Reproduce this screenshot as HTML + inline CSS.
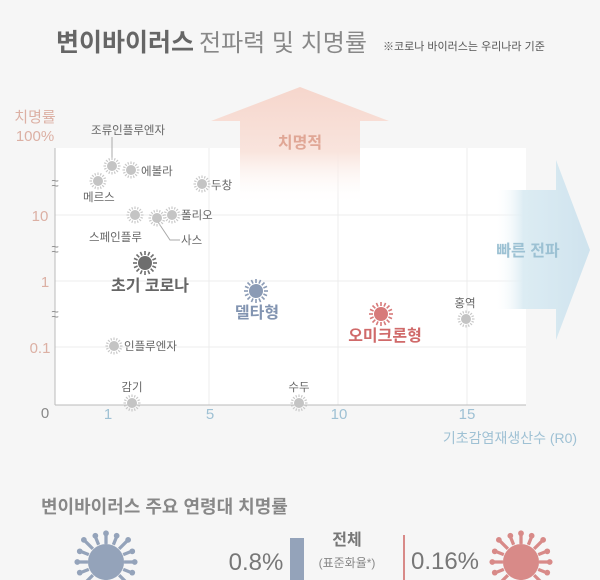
<!DOCTYPE html>
<html><head><meta charset="utf-8"><style>
html,body{margin:0;padding:0;background:#f6f6f6;}
svg{display:block;font-family:"Liberation Sans","Noto Sans CJK KR",sans-serif;}
</style></head><body>
<svg width="600" height="580" viewBox="0 0 600 580" xmlns="http://www.w3.org/2000/svg">
<defs>
<linearGradient id="up" x1="0" y1="0" x2="0" y2="1">
<stop offset="0" stop-color="#f6d6cc"/><stop offset="0.55" stop-color="#f9e4dd"/><stop offset="1" stop-color="#ffffff" stop-opacity="0"/></linearGradient>
<linearGradient id="rt" x1="0" y1="0" x2="1" y2="0">
<stop offset="0" stop-color="#ffffff" stop-opacity="0"/><stop offset="0.3" stop-color="#dcecf3"/><stop offset="1" stop-color="#cfe3ee"/></linearGradient>
<g id="v">
<circle r="5" fill="#c4c4c4"/>
<g stroke="#c8c8c8" stroke-width="1.2">
<line x1="0" y1="-6" x2="0" y2="-8.5"/><line x1="0" y1="6" x2="0" y2="8.5"/><line x1="-6" y1="0" x2="-8.5" y2="0"/><line x1="6" y1="0" x2="8.5" y2="0"/>
<line x1="4.2" y1="4.2" x2="6" y2="6"/><line x1="-4.2" y1="4.2" x2="-6" y2="6"/><line x1="4.2" y1="-4.2" x2="6" y2="-6"/><line x1="-4.2" y1="-4.2" x2="-6" y2="-6"/>
<line x1="2.3" y1="-5.5" x2="3.2" y2="-7.8"/><line x1="-2.3" y1="-5.5" x2="-3.2" y2="-7.8"/><line x1="2.3" y1="5.5" x2="3.2" y2="7.8"/><line x1="-2.3" y1="5.5" x2="-3.2" y2="7.8"/>
<line x1="5.5" y1="2.3" x2="7.8" y2="3.2"/><line x1="5.5" y1="-2.3" x2="7.8" y2="-3.2"/><line x1="-5.5" y1="2.3" x2="-7.8" y2="3.2"/><line x1="-5.5" y1="-2.3" x2="-7.8" y2="-3.2"/>
</g></g>
<g id="bv">
<circle r="7" fill="currentColor"/>
<g stroke="currentColor" stroke-width="1.6">
<line x1="0" y1="-8" x2="0" y2="-12"/><line x1="0" y1="8" x2="0" y2="12"/><line x1="-8" y1="0" x2="-12" y2="0"/><line x1="8" y1="0" x2="12" y2="0"/>
<line x1="5.7" y1="5.7" x2="8.5" y2="8.5"/><line x1="-5.7" y1="5.7" x2="-8.5" y2="8.5"/><line x1="5.7" y1="-5.7" x2="8.5" y2="-8.5"/><line x1="-5.7" y1="-5.7" x2="-8.5" y2="-8.5"/>
<line x1="3" y1="-7.4" x2="4.6" y2="-11"/><line x1="-3" y1="-7.4" x2="-4.6" y2="-11"/><line x1="3" y1="7.4" x2="4.6" y2="11"/><line x1="-3" y1="7.4" x2="-4.6" y2="11"/>
<line x1="7.4" y1="3" x2="11" y2="4.6"/><line x1="7.4" y1="-3" x2="11" y2="-4.6"/><line x1="-7.4" y1="3" x2="-11" y2="4.6"/><line x1="-7.4" y1="-3" x2="-11" y2="-4.6"/>
</g></g>
<g id="big">
<circle r="22" fill="currentColor"/>
<g stroke="currentColor" stroke-width="4">
<line x1="0" y1="-22" x2="0" y2="-34"/><line x1="0" y1="22" x2="0" y2="34"/><line x1="-22" y1="0" x2="-34" y2="0"/><line x1="22" y1="0" x2="34" y2="0"/>
<line x1="16" y1="16" x2="26" y2="26"/><line x1="-16" y1="16" x2="-26" y2="26"/><line x1="16" y1="-16" x2="26" y2="-26"/><line x1="-16" y1="-16" x2="-26" y2="-26"/>
<line x1="9" y1="-21" x2="13" y2="-31"/><line x1="-9" y1="-21" x2="-13" y2="-31"/><line x1="21" y1="-9" x2="31" y2="-13"/><line x1="-21" y1="-9" x2="-31" y2="-13"/>
<line x1="21" y1="9" x2="31" y2="13"/><line x1="-21" y1="9" x2="-31" y2="13"/>
</g>
<g fill="currentColor"><circle cx="0" cy="-35" r="3.5"/><circle cx="-35" cy="0" r="3.5"/><circle cx="35" cy="0" r="3.5"/><circle cx="27" cy="-27" r="3.5"/><circle cx="-27" cy="-27" r="3.5"/><circle cx="13" cy="-32" r="3.5"/><circle cx="-13" cy="-32" r="3.5"/><circle cx="32" cy="-13" r="3.5"/><circle cx="-32" cy="-13" r="3.5"/><circle cx="32" cy="13" r="3.5"/><circle cx="-32" cy="13" r="3.5"/><circle cx="27" cy="27" r="3.5"/><circle cx="-27" cy="27" r="3.5"/></g>
</g>
</defs>

<text x="56" y="51" font-size="25" font-weight="bold" fill="#666">변이바이러스</text>
<text x="199" y="51" font-size="24" fill="#888">전파력 및 치명률</text>
<text x="383" y="50" font-size="11" fill="#555">※코로나 바이러스는 우리나라 기준</text>

<rect x="55" y="148" width="471" height="257" fill="#fff"/>
<g stroke="#ececec" stroke-width="1">
<line x1="55" y1="215" x2="526" y2="215"/><line x1="55" y1="281" x2="526" y2="281"/><line x1="55" y1="347" x2="526" y2="347"/>
<line x1="209" y1="148" x2="209" y2="405"/><line x1="338" y1="148" x2="338" y2="405"/><line x1="467" y1="148" x2="467" y2="405"/>
</g>

<polygon points="300,87 389,121 360,121 360,205 240,205 240,121 211,121" fill="url(#up)"/>
<text x="300" y="148" font-size="16" font-weight="bold" fill="#e0a796" text-anchor="middle">치명적</text>

<polygon points="495,190 556,190 556,160 590,250 556,340 556,309 495,309" fill="url(#rt)"/>
<text x="528" y="256" font-size="16" font-weight="bold" fill="#9cc1d3" text-anchor="middle">빠른 전파</text>

<line x1="55" y1="148" x2="55" y2="405" stroke="#bbb"/>
<line x1="55" y1="405" x2="526" y2="405" stroke="#bbb"/>
<g font-size="13" fill="#888" text-anchor="middle">
<text x="55" y="185">~</text><text x="55" y="190">~</text>
<text x="55" y="251">~</text><text x="55" y="256">~</text>
<text x="55" y="316">~</text><text x="55" y="321">~</text>
</g>
<g font-size="15" fill="#dcb0a4" text-anchor="middle">
<text x="35" y="122">치명률</text><text x="35" y="141">100%</text>
<text x="40" y="221">10</text><text x="45" y="287">1</text><text x="40" y="353">0.1</text>
</g>
<text x="45" y="418" font-size="15" fill="#888" text-anchor="middle">0</text>
<g font-size="15" fill="#9fc1d4" text-anchor="middle">
<text x="108" y="419">1</text><text x="210" y="419">5</text><text x="339" y="419">10</text><text x="467" y="419">15</text>
<text x="510" y="443" font-size="14">기초감염재생산수 (R0)</text>
</g>

<g font-size="11.5" fill="#666">
<line x1="112" y1="137" x2="112" y2="160" stroke="#aaa"/>
<text x="91" y="134">조류인플루엔자</text>
<use href="#v" x="112" y="166"/>
<use href="#v" x="131" y="170"/><text x="141" y="175">에볼라</text>
<use href="#v" x="98" y="181"/><text x="83" y="201">메르스</text>
<use href="#v" x="202" y="184"/><text x="211" y="189">두창</text>
<use href="#v" x="135" y="215"/><text x="89" y="241">스페인플루</text>
<polyline points="158,222 170,240 180,240" fill="none" stroke="#aaa"/>
<use href="#v" x="157" y="218"/>
<use href="#v" x="172" y="215"/><text x="181" y="219">폴리오</text>
<text x="181" y="244">사스</text>
<use href="#v" x="114" y="346"/><text x="124" y="350">인플루엔자</text>
<use href="#v" x="132" y="403"/><text x="132" y="391" text-anchor="middle">감기</text>
<use href="#v" x="299" y="403"/><text x="299" y="391" text-anchor="middle">수두</text>
<use href="#v" x="466" y="319"/><text x="465" y="307" text-anchor="middle">홍역</text>
</g>

<use href="#bv" x="145" y="263" color="#6e6e6e"/>
<text x="150" y="291" font-size="16" font-weight="bold" fill="#666" text-anchor="middle">초기 코로나</text>
<use href="#bv" x="256" y="291" color="#8b9bb5"/>
<text x="257" y="318" font-size="16" font-weight="bold" fill="#8294b1" text-anchor="middle">델타형</text>
<use href="#bv" x="381" y="314" color="#d77a7a"/>
<text x="385" y="341" font-size="16" font-weight="bold" fill="#d06a6a" text-anchor="middle">오미크론형</text>

<text x="41" y="513" font-size="18" font-weight="bold" fill="#888">변이바이러스 주요 연령대 치명률</text>
<use href="#big" transform="translate(106,562) scale(0.82)" color="#94a3ba"/>
<use href="#big" transform="translate(521,562) scale(0.82)" color="#d88a88"/>
<text x="256" y="570" font-size="24" fill="#777" text-anchor="middle">0.8%</text>
<rect x="290" y="538" width="14" height="44" fill="#94a3ba"/>
<text x="347" y="545" font-size="16" font-weight="bold" fill="#777" text-anchor="middle">전체</text>
<text x="347" y="567" font-size="12" fill="#888" text-anchor="middle">(표준화율*)</text>
<rect x="403" y="535" width="2" height="45" fill="#d88a88"/>
<text x="445" y="569" font-size="24" fill="#777" text-anchor="middle">0.16%</text>
</svg>
</body></html>
